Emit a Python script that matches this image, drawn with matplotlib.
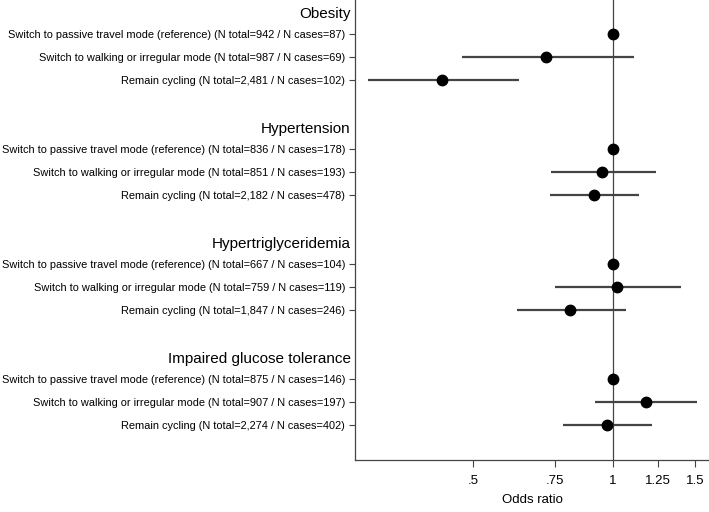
import matplotlib
matplotlib.use("Agg")
import numpy as np
from matplotlib import pyplot as plt
from matplotlib.ticker import FixedLocator, FixedFormatter, NullLocator

plt.rcParams['font.family'] = ['Liberation Sans', 'DejaVu Sans']

outcomes = ["Obesity", "Hypertension", "Hypertriglyceridemia", "Impaired glucose tolerance"]
groups = ["Switch to passive travel mode (reference)",
          "Switch to walking or irregular mode",
          "Remain cycling"]
n_total = [[942, 987, 2481], [836, 851, 2182], [667, 759, 1847], [875, 907, 2274]]
n_cases = [[87, 69, 102], [178, 193, 478], [104, 119, 246], [146, 197, 402]]

odds = [[1.0, 0.72, 0.43], [1.0, 0.95, 0.91], [1.0, 1.02, 0.81], [1.0, 1.18, 0.97]]
ci_low = [[None, 0.475, 0.297], [None, 0.737, 0.731], [None, 0.752, 0.622], [None, 0.914, 0.783]]
ci_high = [[None, 1.11, 0.628], [None, 1.24, 1.138], [None, 1.40, 1.07], [None, 1.52, 1.216]]

x_ticks = [0.5, 0.75, 1, 1.25, 1.5]
x_tick_labels = [".5", ".75", "1", "1.25", "1.5"]

fig = plt.figure(figsize=(7.09, 5.12), dpi=100)
ax = fig.add_axes([0.5007, 0.1016, 0.4993, 0.8984])

gray = "#444444"
ax.axvline(1, color=gray, lw=0.9, zorder=1)

row_pos, row_labels = [], []
header_pos = []
for g, outcome in enumerate(outcomes):
    base = 5 * g
    header_pos.append(base)
    for i, grp in enumerate(groups):
        y = base + 1 + i
        row_pos.append(y)
        row_labels.append(f"{grp} (N total={n_total[g][i]:,} / N cases={n_cases[g][i]})")
        if ci_low[g][i] is not None:
            ax.hlines(y, ci_low[g][i], ci_high[g][i], color=gray, lw=1.6, zorder=2)
        ax.plot(odds[g][i], y, 'o', color='black', ms=7.5, zorder=3)

ax.set_xscale('log')
ax.set_xlim(0.279, 1.61)
ax.set_ylim(19.5, -0.5)
ax.xaxis.set_major_locator(FixedLocator(x_ticks))
ax.xaxis.set_major_formatter(FixedFormatter(x_tick_labels))
ax.xaxis.set_minor_locator(NullLocator())
ax.set_xlabel("Odds ratio", fontsize=9.5, labelpad=5)

ax.set_yticks(row_pos)
ax.set_yticklabels(row_labels, fontsize=7.95)
for g, outcome in enumerate(outcomes):
    ax.text(-0.012, header_pos[g] + 0.12, outcome, transform=ax.get_yaxis_transform(),
            ha='right', va='center', fontsize=11)

ax.tick_params(axis='y', length=4, width=0.8, color=gray, pad=3)
ax.tick_params(axis='x', length=5, width=0.8, color=gray, labelsize=9.5, pad=6)
for side in ['top', 'right']:
    ax.spines[side].set_visible(False)
for side in ['left', 'bottom']:
    ax.spines[side].set_color(gray)
    ax.spines[side].set_linewidth(0.9)

fig.savefig("out.png", dpi=100)
